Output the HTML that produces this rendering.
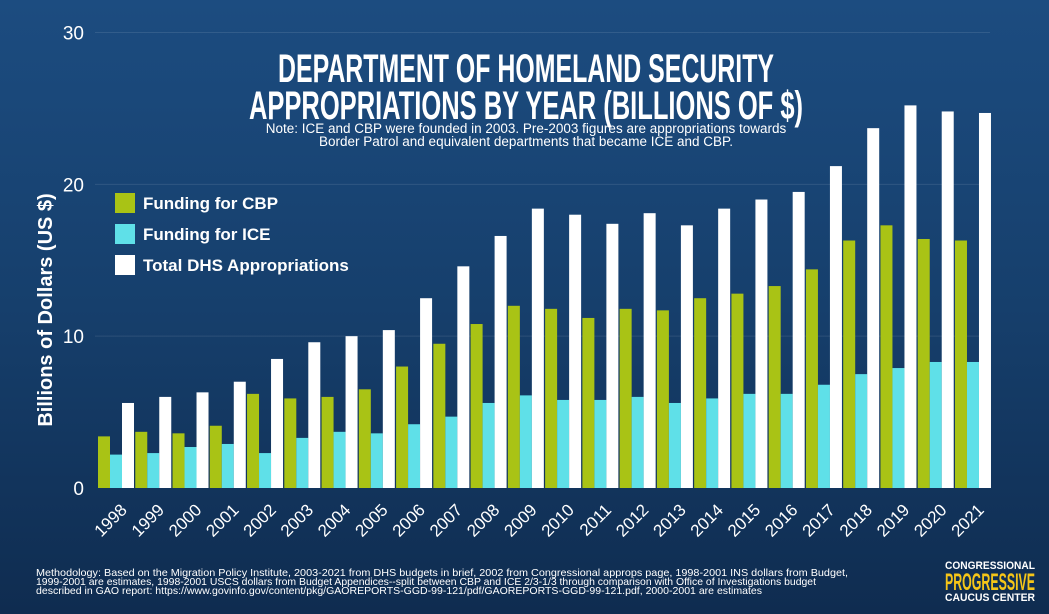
<!DOCTYPE html>
<html><head><meta charset="utf-8">
<style>
body{margin:0;width:1049px;height:614px;overflow:hidden;font-family:"Liberation Sans",sans-serif;}
#bg{position:absolute;left:0;top:0;width:1049px;height:614px;background:linear-gradient(#1c4c80 0%,#163f6c 50%,#0f2c50 100%);}
svg{position:absolute;left:0;top:0;}
</style></head><body>
<div id="bg"></div>
<svg id="chart" width="1049" height="614"></svg>
<script>
const years=["1998","1999","2000","2001","2002","2003","2004","2005","2006","2007","2008","2009","2010","2011","2012","2013","2014","2015","2016","2017","2018","2019","2020","2021"];
const cbp=[3.4,3.7,3.6,4.1,6.2,5.9,6.0,6.5,8.0,9.5,10.8,12.0,11.8,11.2,11.8,11.7,12.5,12.8,13.3,14.4,16.3,17.3,16.4,16.3];
const ice=[2.2,2.3,2.7,2.9,2.3,3.3,3.7,3.6,4.2,4.7,5.6,6.1,5.8,5.8,6.0,5.6,5.9,6.2,6.2,6.8,7.5,7.9,8.3,8.3];
const total=[5.6,6.0,6.3,7.0,8.5,9.6,10.0,10.4,12.5,14.6,16.6,18.4,18.0,17.4,18.1,17.3,18.4,19.0,19.5,21.2,23.7,25.2,24.8,24.7];
const yTicks=[0,10,20,30];
const NS="http://www.w3.org/2000/svg";
const svg=document.getElementById('chart');
const y0=488,yTop=32.5,yMax=30;
const y=v=>y0-(y0-yTop)*v/yMax;
const x0=98,step=37.26,bw=12;
const x=i=>x0+i*step;
function mk(tag,attrs,parent){const e=document.createElementNS(NS,tag);for(const k in attrs)e.setAttribute(k,attrs[k]);(parent||svg).appendChild(e);return e;}
yTicks.forEach(t=>{
  if(t>0){const g=mk('line',{x1:95,x2:990,y1:y(t),y2:y(t),stroke:'#ffffff',"stroke-opacity":0.1,"stroke-width":1});
  
  }
  const l=mk('text',{x:84,y:y(t)+7,"text-anchor":"end",fill:"#fff","font-size":19});
  l.textContent=t;
  
  
});
const series=[[cbp,'#a9c315','cbp'],[ice,'#5fe0e8','ice'],[total,'#ffffff','total']];
years.forEach((yr,i)=>{
  series.forEach((s,j)=>{
    const r=mk('rect',{x:x(i)+j*bw,y:y(s[0][i]),width:bw,height:y0-y(s[0][i]),fill:s[1]});
    
    
  });
  const cx=x(i)+18,cy=505;
  const t=mk('text',{x:cx+12,y:cy+6,"text-anchor":"end",fill:"#fff","font-size":17,transform:`rotate(-45 ${cx+12} ${cy+6})`});
  t.textContent=yr;
  
  
});
</script>
<svg width="1049" height="614">
<text x="52" y="310" transform="rotate(-90 52 310)" text-anchor="middle" fill="#fff" font-size="20" font-weight="bold">Billions of Dollars (US $)</text>
<g font-family="Liberation Sans Narrow, Liberation Sans, sans-serif" font-weight="bold" fill="#fff" font-size="40" text-anchor="middle">
<text x="526" y="82" textLength="496" lengthAdjust="spacingAndGlyphs">DEPARTMENT OF HOMELAND SECURITY</text>
<text x="526" y="119" textLength="554" lengthAdjust="spacingAndGlyphs">APPROPRIATIONS BY YEAR (BILLIONS OF $)</text>
</g>
<g fill="#fff" font-size="13.5" text-anchor="middle">
<text x="526" y="133">Note: ICE and CBP were founded in 2003. Pre-2003 figures are appropriations towards</text>
<text x="526" y="146">Border Patrol and equivalent departments that became ICE and CBP.</text>
</g>
<g fill="#fff" font-size="17" font-weight="bold">
<rect x="115" y="193" width="20" height="20" fill="#a9c315"/>
<text x="143" y="209">Funding for CBP</text>
<rect x="115" y="224" width="20" height="20" fill="#5fe0e8"/>
<text x="143" y="240">Funding for ICE</text>
<rect x="115" y="255" width="20" height="20" fill="#fff"/>
<text x="143" y="271">Total DHS Appropriations</text>
</g>
<g fill="#fff" font-size="10.3">
<text x="36" y="576" textLength="812" lengthAdjust="spacingAndGlyphs">Methodology: Based on the Migration Policy Institute, 2003-2021 from DHS budgets in brief, 2002 from Congressional approps page, 1998-2001 INS dollars from Budget,</text>
<text x="36" y="585" textLength="780" lengthAdjust="spacingAndGlyphs">1999-2001 are estimates, 1998-2001 USCS dollars from Budget Appendices--split between CBP and ICE 2/3-1/3 through comparison with Office of Investigations budget</text>
<text x="36" y="594" textLength="726" lengthAdjust="spacingAndGlyphs">described in GAO report: https://www.govinfo.gov/content/pkg/GAOREPORTS-GGD-99-121/pdf/GAOREPORTS-GGD-99-121.pdf, 2000-2001 are estimates</text>
</g>
<g text-anchor="middle" font-weight="bold">
<text x="990" y="569" fill="#fff" font-size="11" textLength="90" lengthAdjust="spacingAndGlyphs">CONGRESSIONAL</text>
<text x="990" y="590" fill="#f5c518" font-size="24" font-family="Liberation Sans Narrow, Liberation Sans, sans-serif" textLength="90" lengthAdjust="spacingAndGlyphs">PROGRESSIVE</text>
<text x="990" y="601" fill="#fff" font-size="11" textLength="90" lengthAdjust="spacingAndGlyphs">CAUCUS CENTER</text>
</g>
</svg>
</body></html>
